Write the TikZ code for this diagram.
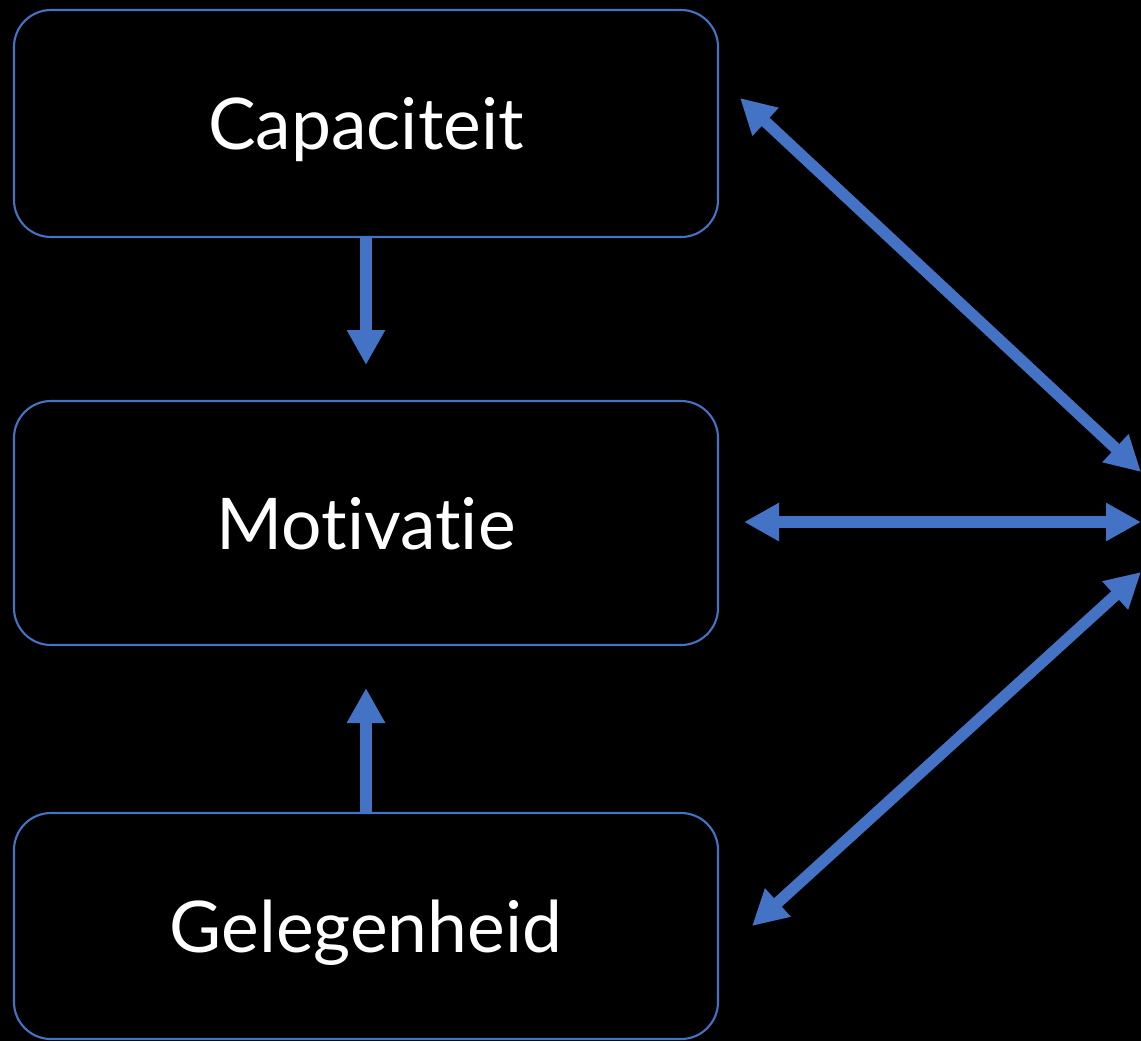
\documentclass[tikz,border=0pt]{standalone}
\usepackage{fontspec}
\setmainfont{Lato}[Ligatures=NoCommon]
\usetikzlibrary{arrows.meta}
\definecolor{officeblue}{HTML}{4472C4}
\tikzset{
  box/.style={draw=officeblue, line width=0.6pt, rounded corners=0.37cm,
    minimum width=7.04cm, text=white, text depth=0pt,
    font=\fontsize{20.3}{24}\selectfont},
  link/.style={officeblue, line width=0.115cm, -{Triangle[length=0.35cm,width=0.36cm]}},
  dbl/.style={officeblue, line width=0.115cm,
    {Triangle[length=0.35cm,width=0.36cm]}-{Triangle[length=0.35cm,width=0.36cm]}}
}
\begin{document}
\begin{tikzpicture}
\fill[black] (0,0) rectangle (11.41,10.41);
\useasboundingbox (0,0) rectangle (11.41,10.41);

    \node[box, minimum height=2.27cm] (cap) at (3.66,9.175) {Capaciteit};
    \node[box, minimum height=2.44cm] (mot) at (3.66,5.18) {Motivatie};
    \node[box, minimum height=2.26cm] (gel) at (3.66,1.15) {Gelegenheid};

    \coordinate (capR) at (7.40,9.43);
    \coordinate (motR) at (7.44,5.19);
    \coordinate (gelR) at (7.52,1.15);
    \coordinate (C) at (11.41,5.69);
    \coordinate (M) at (11.41,5.19);
    \coordinate (G) at (11.41,4.69);
    \coordinate (capS) at (3.66,6.76);
    \coordinate (gelS) at (3.66,3.53);

\draw[link] (cap.south) -- (capS);
\draw[link] (gel.north) -- (gelS);
\draw[dbl] (capR) -- (C);
\draw[dbl] (motR) -- (M);
\draw[dbl] (gelR) -- (G);
  \end{tikzpicture}
\end{document}
